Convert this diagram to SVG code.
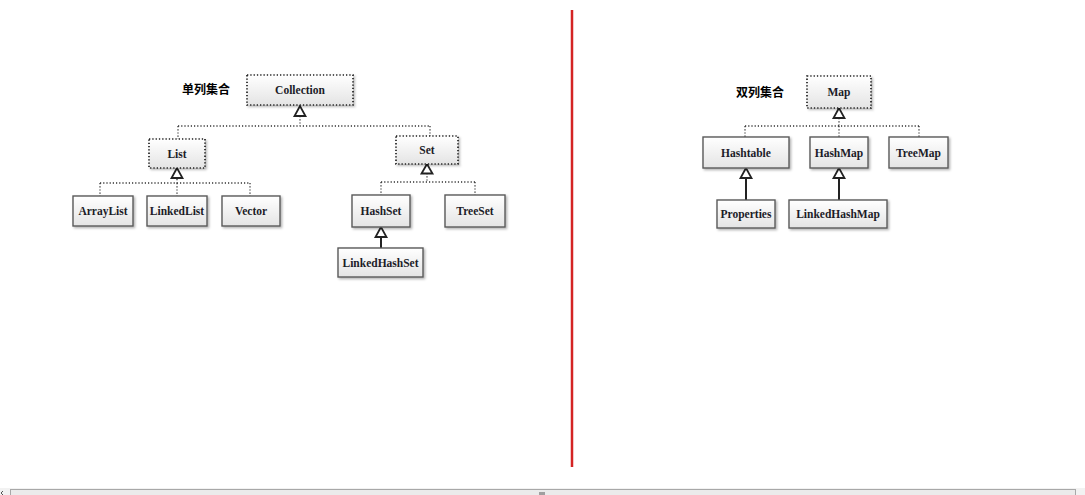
<svg xmlns="http://www.w3.org/2000/svg" width="1085" height="495" viewBox="0 0 1085 495">
<defs>
<linearGradient id="g" x1="0" y1="0" x2="0" y2="1">
<stop offset="0" stop-color="#ffffff"/>
<stop offset="1" stop-color="#e4e4e4"/>
</linearGradient>
<filter id="sh" x="-10%" y="-10%" width="130%" height="140%">
<feDropShadow dx="1.5" dy="1.5" stdDeviation="1" flood-color="#000" flood-opacity="0.3"/>
</filter>
</defs>
<style>
.cls rect{fill:url(#g);stroke:#5a5a5a;stroke-width:1.4;filter:url(#sh)}
.itf rect{fill:url(#g);stroke:#222;stroke-width:1.7;stroke-dasharray:1.3 2;filter:url(#sh)}
text{font-family:"Liberation Serif","Times New Roman",serif;font-size:11.5px;font-weight:bold;fill:#1c1c28;text-anchor:middle;dominant-baseline:central}
.cn{font-family:"Liberation Sans","Noto Sans CJK SC",sans-serif;font-weight:bold;font-size:12px;fill:#000}
.dash{fill:none;stroke:#333;stroke-width:1.3;stroke-dasharray:1.2 2}
.solid{fill:none;stroke:#222;stroke-width:2}
.tri{fill:#fff;stroke:#222;stroke-width:1.8}
</style>
<rect width="1085" height="495" fill="#fff"/>

<g id="connectors">
<path class="dash" d="M300,116 V126 M178,126 H430 M178,126 V139 M430,126 V136"/>
<polygon class="tri" points="300,106 294.5,116 305.5,116"/>
<path class="dash" d="M177,179 V183 M100,183 H250 M100,183 V196 M177,183 V196 M250,183 V196"/>
<polygon class="tri" points="177,168 171.5,178 182.5,178"/>
<path class="dash" d="M427,173 V182 M381,182 H475 M381,182 V195 M475,182 V195"/>
<polygon class="tri" points="427,164 421.5,173.5 432.5,173.5"/>
<path class="solid" d="M381,237 V248"/>
<polygon class="tri" points="381,227 375.5,237 386.5,237"/>
<path class="dash" d="M839,118 V126 M745,126 H919 M745,126 V137 M839,126 V137 M919,126 V137"/>
<polygon class="tri" points="839,108 833.5,118 844.5,118"/>
<path class="solid" d="M746,178 V200"/>
<polygon class="tri" points="746,168 740.5,178 751.5,178"/>
<path class="solid" d="M839,178 V200"/>
<polygon class="tri" points="839,168 833.5,178 844.5,178"/>
</g>

<text class="cn" x="206" y="90">单列集合</text>
<text class="cn" x="760" y="93">双列集合</text>

<g id="Collection" class="itf"><rect x="247" y="75" width="106" height="30"/><text x="300" y="90">Collection</text></g>
<g id="List" class="itf"><rect x="149" y="139" width="56" height="29"/><text x="177" y="154">List</text></g>
<g id="Set" class="itf"><rect x="396" y="136" width="62" height="28"/><text x="427" y="150">Set</text></g>
<g id="ArrayList" class="cls"><rect x="73" y="196" width="60" height="30"/><text x="103" y="211">ArrayList</text></g>
<g id="LinkedList" class="cls"><rect x="147" y="196" width="60" height="30"/><text x="177" y="211">LinkedList</text></g>
<g id="Vector" class="cls"><rect x="222" y="196" width="58" height="30"/><text x="251" y="211">Vector</text></g>
<g id="HashSet" class="cls"><rect x="352" y="195" width="58" height="32"/><text x="381" y="211">HashSet</text></g>
<g id="TreeSet" class="cls"><rect x="445" y="195" width="60" height="32"/><text x="475" y="211">TreeSet</text></g>
<g id="LinkedHashSet" class="cls"><rect x="338" y="248" width="85" height="29"/><text x="380.5" y="263">LinkedHashSet</text></g>

<g id="Map" class="itf"><rect x="807" y="76" width="64" height="32"/><text x="839" y="92">Map</text></g>
<g id="Hashtable" class="cls"><rect x="703" y="137" width="86" height="31"/><text x="746" y="153">Hashtable</text></g>
<g id="HashMap" class="cls"><rect x="810" y="137" width="58" height="31"/><text x="839" y="153">HashMap</text></g>
<g id="TreeMap" class="cls"><rect x="889" y="137" width="59" height="31"/><text x="918.5" y="153">TreeMap</text></g>
<g id="Properties" class="cls"><rect x="717" y="200" width="58" height="28"/><text x="746" y="214">Properties</text></g>
<g id="LinkedHashMap" class="cls"><rect x="789" y="200" width="98" height="28"/><text x="838" y="214">LinkedHashMap</text></g>

<line x1="572" y1="10" x2="572" y2="467" stroke="#d42424" stroke-width="2.5"/>

<g id="scrollbar">
<rect x="0" y="488" width="1085" height="7" fill="#f2f2f2"/>
<rect x="10.5" y="489.5" width="1065" height="6" fill="#ebebeb" stroke="#a8a8a8"/>
<path d="M540,492 V495 M542,492 V495 M544,492 V495" stroke="#555" stroke-width="1"/>
<path d="M3,491 L1,493 L3,495" fill="none" stroke="#555"/>
</g>
</svg>
